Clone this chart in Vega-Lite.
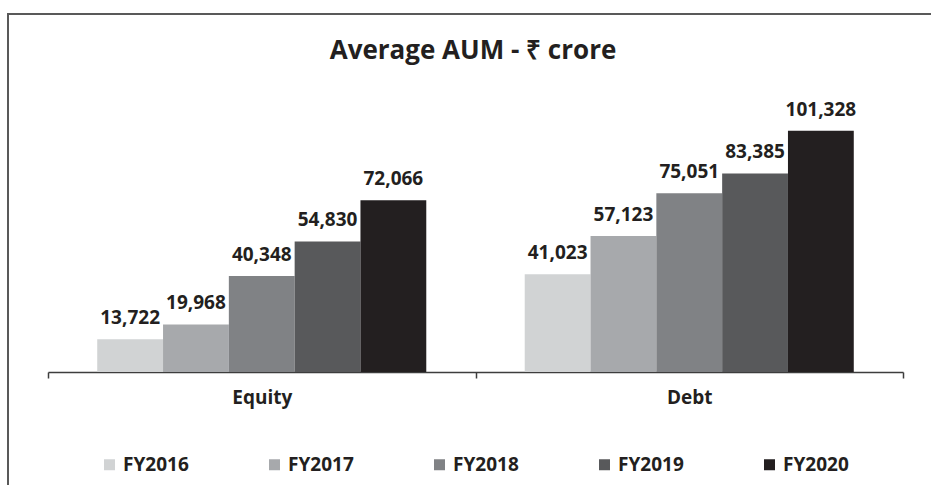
{
  "$schema": "https://vega.github.io/schema/vega-lite/v6.json",
  "width": 930,
  "height": 480,
  "autosize": {"type": "none"},
  "padding": {"left": 8, "top": 14, "right": 0, "bottom": 0},
  "title": {
    "text": "Average AUM - ₹ crore",
    "fontSize": 26,
    "font": "Open Sans",
    "fontWeight": "bold",
    "color": "#231f20",
    "anchor": "middle",
    "frame": "group",
    "baseline": "alphabetic",
    "offset": -71
  },
  "data": {
    "values": [
      {"category": "Equity", "year": "FY2016", "value": 13722},
      {"category": "Equity", "year": "FY2017", "value": 19968},
      {"category": "Equity", "year": "FY2018", "value": 40348},
      {"category": "Equity", "year": "FY2019", "value": 54830},
      {"category": "Equity", "year": "FY2020", "value": 72066},
      {"category": "Debt", "year": "FY2016", "value": 41023},
      {"category": "Debt", "year": "FY2017", "value": 57123},
      {"category": "Debt", "year": "FY2018", "value": 75051},
      {"category": "Debt", "year": "FY2019", "value": 83385},
      {"category": "Debt", "year": "FY2020", "value": 101328}
    ]
  },
  "encoding": {
    "x": {
      "field": "category",
      "type": "nominal",
      "sort": ["Equity", "Debt"],
      "scale": {"range": [40, 895], "paddingInner": 0, "paddingOuter": 0},
      "axis": {
        "title": null,
        "orient": "bottom",
        "offset": -122,
        "labelAngle": 0,
        "tickBand": "extent",
        "domainColor": "#3d3d3d",
        "domainWidth": 1.5,
        "tickColor": "#3d3d3d",
        "tickWidth": 1.5,
        "tickSize": 6,
        "labelPadding": 10,
        "labelFontSize": 19,
        "labelFont": "Open Sans",
        "labelFontWeight": "bold",
        "labelColor": "#231f20",
        "grid": false
      }
    },
    "xOffset": {
      "field": "year",
      "type": "nominal",
      "sort": ["FY2016", "FY2017", "FY2018", "FY2019", "FY2020"],
      "scale": {"paddingInner": 0, "paddingOuter": 0.748}
    },
    "y": {
      "field": "value",
      "type": "quantitative",
      "scale": {"domain": [0, 120000], "range": [358, 72.2], "nice": false, "zero": true},
      "axis": null
    }
  },
  "layer": [
    {
      "mark": {"type": "bar"},
      "encoding": {
        "color": {
          "field": "year",
          "type": "nominal",
          "sort": ["FY2016", "FY2017", "FY2018", "FY2019", "FY2020"],
          "scale": {
            "domain": ["FY2016", "FY2017", "FY2018", "FY2019", "FY2020"],
            "range": ["#d1d3d4", "#a7a9ac", "#808285", "#58595b", "#231f20"]
          },
          "legend": {
            "title": null,
            "orient": "none",
            "legendX": 92,
            "legendY": 441,
            "direction": "horizontal",
            "columns": 5,
            "columnPadding": 76,
            "padding": 0,
            "symbolType": "square",
            "symbolSize": 121,
            "symbolStrokeWidth": 0,
            "symbolOpacity": 1,
            "labelFontSize": 19,
            "labelFont": "Open Sans",
            "labelFontWeight": "bold",
            "labelColor": "#231f20",
            "labelOffset": 4
          }
        }
      }
    },
    {
      "mark": {
        "type": "text",
        "dy": -15,
        "baseline": "alphabetic",
        "fontSize": 19,
        "fontWeight": "bold",
        "font": "Open Sans",
        "color": "#231f20"
      },
      "encoding": {
        "text": {"field": "value", "type": "quantitative", "format": ","}
      }
    }
  ],
  "config": {
    "view": {"stroke": "#595959", "strokeWidth": 2},
    "background": "#ffffff"
  }
}
